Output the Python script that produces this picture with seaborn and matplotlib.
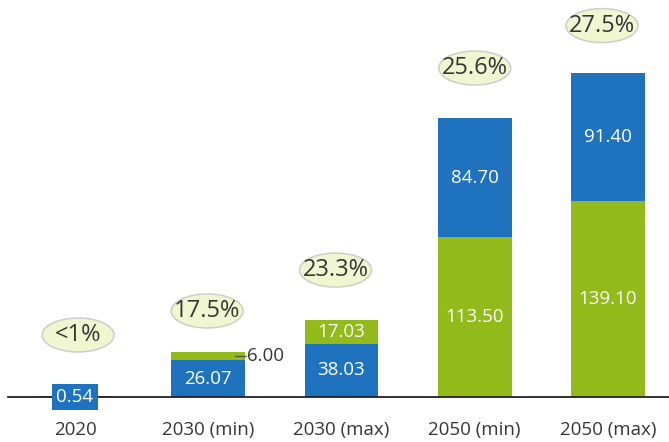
import matplotlib
matplotlib.use("Agg")
import matplotlib.pyplot as plt
from matplotlib.patches import Ellipse
import seaborn as sns
import numpy as np

categories = ["2020", "2030 (min)", "2030 (max)", "2050 (min)", "2050 (max)"]
blue_vals = [0.54, 26.07, 38.03, 84.70, 91.40]
green_vals = [0.0, 6.00, 17.03, 113.50, 139.10]
green_on_bottom = [False, False, False, True, True]
shares = ["<1%", "17.5%", "23.3%", "25.6%", "27.5%"]
share_y = [44.1, 61.2, 90.3, 234.0, 264.2]
share_dx = [0.023, -0.008, -0.045, 0.0, -0.045]

BLUE = "#1F73BE"
GREEN = "#93BA1B"
ELL_FC = "#EFF6D0"
ELL_EC = "#CDCDCD"
TXT = "#363636"

sns.set_theme(style="white")
plt.rcParams["font.family"] = ["Open Sans", "DejaVu Sans"]

fig = plt.figure(figsize=(6.69, 4.42), dpi=100)
ax = fig.add_axes([8 / 669, 45 / 442, 661 / 669, 397 / 442])

blue = np.array(blue_vals)
green = np.array(green_vals)
gb = np.array(green_on_bottom)
blue_bottom = np.where(gb, green, 0.0)
green_bottom = np.where(gb, 0.0, blue)

W = 0.555
sns.barplot(x=categories, y=blue, bottom=blue_bottom, color=BLUE, width=W,
            saturation=1, ax=ax, order=categories, linewidth=0)
sns.barplot(x=categories, y=green, bottom=green_bottom, color=GREEN, width=W,
            saturation=1, ax=ax, order=categories, linewidth=0)

ax.set_xlim(-0.503, 4.458)
ax.set_ylim(0, 282.4)

fs = 13.5
for i in range(len(categories)):
    b, g = blue[i], green[i]
    if i == 0:
        ax.text(i, 0.0, f"{b:.2f}", ha="center", va="center", color="white",
                fontsize=fs, bbox=dict(boxstyle="square,pad=0.22", fc=BLUE, ec="none"), zorder=5)
        continue
    bb, gbt = blue_bottom[i], green_bottom[i]
    ax.text(i, bb + b / 2, f"{b:.2f}", ha="center", va="center", color="white", fontsize=fs, zorder=5)
    if g < 10:
        ymid = gbt + g / 2
        ax.plot([i + 0.2, i + 0.285], [ymid, ymid], color="#555555", lw=1, zorder=5)
        ax.text(i + 0.29, ymid, f"{g:.2f}", ha="left", va="center", color=TXT, fontsize=fs, zorder=5)
    else:
        ax.text(i, gbt + g / 2, f"{g:.2f}", ha="center", va="center", color="white", fontsize=fs, zorder=5)

EW = 72 / 133.25
EH = 34 / 1.406
for i, (s, y, dx) in enumerate(zip(shares, share_y, share_dx)):
    ax.add_patch(Ellipse((i + dx, y), EW, EH, fc=ELL_FC, ec=ELL_EC, lw=1.1, zorder=6))
    ax.text(i + dx, y, s, ha="center", va="center", color=TXT, fontsize=17, zorder=7)

for sp in ["top", "right", "left"]:
    ax.spines[sp].set_visible(False)
ax.spines["bottom"].set_color("#222222")
ax.spines["bottom"].set_linewidth(1.3)
ax.set_yticks([])
ax.set_ylabel("")
ax.set_xlabel("")
ax.tick_params(axis="x", length=0, pad=17, labelsize=13.5, labelcolor=TXT)

fig.savefig("out.png", dpi=100)
